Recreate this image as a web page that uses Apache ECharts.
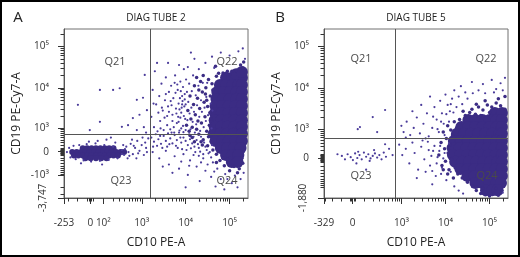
<!DOCTYPE html>
<html>
<head>
<meta charset="utf-8">
<script src="https://cdn.jsdelivr.net/npm/echarts@6/dist/echarts.min.js"></script>
<style>
  html, body { margin: 0; padding: 0; background: #fff; }
  #chart { width: 520px; height: 257px; }
</style>
</head>
<body>
<div id="chart"></div>
<script>
// axis ticks, in fluorescence units
const MAXV = 262143
const xTicksA = [-253, 0, 100, 1000, 10000, 100000]
const xLabelsA = ['-253', '0', '10²', '10³', '10⁴', '10⁵']
const yTicksA = [100000, 10000, 1000, 0, -1000]
const yLabelsA = ['10⁵', '10⁴', '10³', '0', '-10³']
const yMinA = -3747
const xTicksB = [-329, 0, 1000, 10000, 100000]
const xLabelsB = ['-329', '0', '10³', '10⁴', '10⁵']
const yTicksB = [100000, 10000, 1000, 0]
const yLabelsB = ['10⁵', '10⁴', '10³', '0']
const yMinB = -1880
// quadrant gates [CD10, CD19]
const gatesA = [1530, 640]
const gatesB = [707, 563]

// events, in logicle display units (≈ log10 for bright cells)
const blobA = [
  [4.92,4.24],[5.06,4.24],[5.20,4.24],[5.28,4.24],[5.15,4.33],[5.28,4.38],
  [4.78,4.07],[4.92,4.07],[5.06,4.07],[5.20,4.07],[5.28,4.07],
  [4.72,3.90],[4.87,3.90],[5.02,3.90],[5.16,3.90],[5.28,3.90],
  [4.70,3.73],[4.85,3.73],[5.00,3.73],[5.15,3.73],[5.28,3.73],
  [4.68,3.56],[4.83,3.56],[4.98,3.56],[5.13,3.56],[5.28,3.56],
  [4.67,3.39],[4.82,3.39],[4.97,3.39],[5.12,3.39],[5.28,3.39],
  [4.66,3.22],[4.81,3.22],[4.96,3.22],[5.11,3.22],[5.28,3.22],
  [4.66,3.06],[4.81,3.06],[4.96,3.06],[5.11,3.06],[5.28,3.06],
  [4.64,2.89],[4.79,2.89],[4.94,2.89],[5.09,2.89],[5.28,2.89],
  [4.68,2.72],[4.83,2.72],[4.98,2.72],[5.13,2.72],[5.28,2.72],
  [4.80,2.55],[4.95,2.55],[5.10,2.55],[5.25,2.55],
  [4.92,2.38],[5.06,2.38],[5.20,2.38],
  [5.05,2.21],[5.18,2.21]
]
const coreA = [
  [1.66,2.54],[1.76,2.54],[1.86,2.54],[1.96,2.54],[2.06,2.54],[2.16,2.54],[2.26,2.54],[2.36,2.54],
  [1.42,2.45],[1.52,2.45],[1.62,2.45],[1.72,2.45],[1.82,2.45],[1.92,2.45],[2.02,2.45],[2.12,2.45],
  [2.22,2.45],[2.32,2.45],[2.42,2.45],[2.52,2.45],[2.60,2.45],
  [1.46,2.37],[1.56,2.37],[1.66,2.37],[1.76,2.37],[1.86,2.37],[1.96,2.37],[2.06,2.37],[2.16,2.37],
  [2.26,2.37],[2.36,2.37],[2.46,2.37],
  [1.72,2.30],[1.84,2.30],[1.96,2.30],[2.08,2.30],[2.20,2.30]
]
const fringeA = [
  [4.02,3.10],[4.05,3.45],[4.08,2.95],[4.10,3.80],[4.12,3.25],[4.15,2.80],[4.18,3.60],[4.20,4.05],
  [4.22,3.35],[4.25,3.00],[4.27,3.75],[4.30,2.88],[4.32,3.50],[4.34,4.15],[4.36,3.15],[4.38,3.90],
  [4.40,2.75],[4.42,3.65],[4.44,3.30],[4.46,4.00],[4.48,2.95],[4.50,3.55],[4.52,4.20],[4.54,3.10],
  [4.56,3.80],[4.58,2.70],[4.60,4.10],[4.35,2.70],[4.15,3.05],[4.28,3.20],[4.45,3.85],[4.55,3.40],
  [4.40,4.30],[4.25,4.25],[4.10,2.85],[4.50,2.60],[4.62,2.50],[4.70,2.40],[4.38,2.62],[4.58,3.25],
  [4.48,3.70],[4.30,3.95],[4.62,3.95],[4.20,2.70],[4.52,2.82],
  [4.75,4.35],[4.85,4.36],[4.95,4.40],[5.05,4.40],[5.15,4.42],[5.25,4.55],[5.32,4.62],[4.68,4.52],
  [5.30,4.48],[4.70,4.28],[5.00,4.32],
  [4.78,2.25],[4.88,2.12],[4.95,2.28],[5.00,2.00],[5.10,2.10],[5.22,2.05],[5.30,2.18],[5.18,1.95],
  [4.85,2.30],[5.28,2.30],[4.70,2.20]
]
const dotsA = [
  // Q22, left of the bright population
  [3.22,3.30],[3.25,3.95],[3.28,3.05],[3.30,4.40],[3.33,3.60],[3.36,2.95],[3.40,3.80],[3.42,3.20],
  [3.45,4.10],[3.48,3.45],[3.50,2.98],[3.53,3.70],[3.55,4.25],[3.58,3.10],[3.60,3.55],[3.62,3.90],
  [3.65,3.00],[3.67,4.05],[3.70,3.35],[3.72,3.75],[3.74,2.92],[3.76,4.30],[3.78,3.50],[3.80,3.15],
  [3.82,3.95],[3.84,3.62],[3.86,2.97],[3.88,4.15],[3.90,3.40],[3.92,3.80],[3.94,3.08],[3.96,4.45],
  [3.97,3.55],[3.99,3.25],[3.60,4.60],[3.35,4.60],[3.85,4.55],[3.70,3.20],[3.52,3.28],[3.93,3.68],
  [3.88,3.28],[3.91,3.52],[3.95,2.93],[3.98,3.85],[4.00,3.60],[4.01,4.20],[3.87,3.75],[3.83,3.30],
  [4.05,4.50],[4.20,4.70],[4.45,4.60],[4.60,4.75],[4.80,4.85],[5.00,4.78],[5.20,4.88],[5.35,4.70],
  [4.30,4.45],[4.65,4.48],[4.12,4.85],[5.30,4.95],
  [3.62,3.42],[3.66,3.68],[3.73,3.05],[3.77,3.88],[3.79,3.38],[3.81,4.08],[3.84,3.18],[3.86,3.48],
  [3.89,3.92],[3.90,3.02],[3.92,3.60],[3.94,4.02],[3.96,3.32],[3.98,3.72],[4.00,2.98],[4.03,3.90],
  [4.04,3.22],[4.06,3.66],[4.08,4.10],[4.09,3.38],[4.11,3.00],[4.13,3.52],[4.14,3.92],[4.16,3.18],
  [4.17,4.30],[4.19,3.42],[4.21,2.92],[4.23,3.82],[4.24,3.12],[4.26,3.58],[4.29,4.05],[4.31,3.30],
  [4.33,2.96],[4.35,3.70],[4.37,3.42],[4.39,4.12],[4.41,3.05],[4.43,3.52],[4.46,3.20],[4.47,3.78],
  [4.49,4.12],[4.51,3.34],[4.53,2.88],[4.57,3.62],[4.59,3.02],[4.61,3.45],[3.55,3.85],[3.46,3.52],
  [3.58,3.32],[3.68,3.58],[3.75,4.12],[3.43,3.02],[3.38,3.40],[3.27,3.62],
  // around the CD19 gate
  [3.22,2.80],[3.28,2.70],[3.32,2.88],[3.38,2.76],[3.44,2.65],[3.50,2.84],[3.55,2.72],[3.60,2.90],
  [3.65,2.78],[3.70,2.66],[3.75,2.86],[3.80,2.74],[3.85,2.92],[3.90,2.68],[3.95,2.80],[4.00,2.72],
  [4.05,2.62],[4.10,2.76],[4.15,2.66],[4.20,2.58],[4.25,2.74],[4.30,2.55],[4.35,2.82],[4.42,2.68],
  [4.48,2.50],[3.35,2.60],[3.58,2.58],[3.82,2.55],[4.02,2.50],[4.22,2.45],
  [3.26,2.58],[3.42,2.84],[3.47,2.55],[3.63,2.64],[3.68,2.92],[3.78,2.60],[3.88,2.80],[3.92,2.52],
  [4.08,2.88],[4.12,2.54],[4.18,2.82],[4.28,2.64],[4.33,2.46],[4.38,2.72],[4.45,2.58],[4.55,2.45],
  [4.60,2.62],[4.40,2.40],
  // Q24
  [3.25,2.45],[3.40,2.30],[3.55,2.48],[3.62,2.15],[3.75,2.35],[3.85,2.05],[3.95,2.40],[4.05,1.90],
  [4.10,2.25],[4.18,2.38],[4.25,2.10],[4.32,1.75],[4.40,2.30],[4.45,2.00],[4.52,2.42],[4.58,1.85],
  [4.62,2.20],[4.68,1.62],[4.72,2.05],[4.80,1.80],[4.90,1.92],[5.05,1.70],[5.12,1.88],[5.25,1.80],
  [5.32,1.95],[3.70,1.95],[3.48,2.10],[4.00,1.60],[4.88,1.55],[5.18,1.60],
  [4.35,2.20],[4.50,2.15],[4.58,2.32],[4.65,1.98],[4.30,2.36],[4.08,2.12],[3.90,2.22],[4.95,1.80],
  // Q23, tail and halo of the negative population
  [2.55,2.50],[2.60,2.38],[2.65,2.58],[2.70,2.45],[2.75,2.65],[2.80,2.40],[2.85,2.55],[2.90,2.72],
  [2.95,2.48],[3.00,2.62],[3.05,2.38],[3.10,2.55],[3.15,2.78],[2.68,2.30],[2.88,2.30],[3.02,2.80],
  [2.78,2.75],[3.12,2.45],[2.62,2.52],[2.72,2.36],[2.82,2.60],[2.92,2.42],[3.08,2.68],
  [1.30,2.45],[1.35,2.55],[1.38,2.32],[1.45,2.60],[1.50,2.28],[1.58,2.62],[1.68,2.25],[1.75,2.64],
  [1.85,2.22],[1.95,2.66],[2.05,2.24],[2.15,2.62],[2.25,2.26],[2.35,2.58],[2.45,2.30],[2.55,2.40],
  [2.40,2.68],[2.00,2.72],[1.80,2.70],[2.20,2.75],[1.62,2.18],[2.10,2.15],[2.58,2.62],[2.30,2.80],
  // Q21
  [2.05,3.95],[2.35,3.95],[1.55,3.59],[2.89,3.71],[3.03,3.76],[3.12,3.46],[2.80,3.27],[2.55,3.06],
  [2.05,3.18],[2.69,3.10],[2.89,2.98],[3.07,4.31],[2.50,3.99],[1.82,2.98],[3.05,3.05],[3.10,2.92],
  [2.95,3.35]
]

const blobB = [
  [5.12,3.41],[5.28,3.41],
  [4.52,3.24],[4.68,3.24],[4.84,3.24],[5.00,3.24],[5.16,3.24],[5.28,3.24],
  [4.36,3.07],[4.52,3.07],[4.68,3.07],[4.84,3.07],[5.00,3.07],[5.16,3.07],[5.28,3.07],
  [4.26,2.91],[4.42,2.91],[4.58,2.91],[4.74,2.91],[4.90,2.91],[5.06,2.91],[5.22,2.91],[5.28,2.91],
  [4.19,2.74],[4.35,2.74],[4.51,2.74],[4.67,2.74],[4.83,2.74],[4.99,2.74],[5.15,2.74],[5.28,2.74],
  [4.16,2.57],[4.32,2.57],[4.48,2.57],[4.64,2.57],[4.80,2.57],[4.96,2.57],[5.12,2.57],[5.28,2.57],
  [4.17,2.40],[4.33,2.40],[4.49,2.40],[4.65,2.40],[4.81,2.40],[4.97,2.40],[5.13,2.40],[5.28,2.40],
  [4.22,2.24],[4.38,2.24],[4.54,2.24],[4.70,2.24],[4.86,2.24],[5.02,2.24],[5.18,2.24],[5.28,2.24],
  [4.34,2.07],[4.50,2.07],[4.66,2.07],[4.82,2.07],[4.98,2.07],[5.14,2.07],[5.28,2.07],
  [4.50,1.90],[4.66,1.90],[4.82,1.90],[4.98,1.90],[5.14,1.90],[5.28,1.90],
  [4.68,1.73],[4.84,1.73],[5.00,1.73],[5.16,1.73],[5.26,1.73],
  [4.92,1.56],[5.06,1.56],[5.18,1.56]
]
const fringeB = [
  [3.85,2.40],[3.90,2.70],[3.92,2.15],[3.95,2.95],[3.98,2.55],[4.00,2.25],[4.02,2.80],[4.05,3.10],
  [4.06,2.45],[4.08,2.05],[4.10,2.65],[4.12,3.00],[4.14,2.30],[4.16,2.88],[4.05,1.95],[4.20,3.20],
  [4.25,3.05],[4.28,1.95],[4.32,3.25],[4.38,1.85],[4.45,3.35],[4.50,1.75],[4.55,3.42],[4.62,1.65],
  [4.22,2.10],[3.95,2.05],[4.18,1.85],
  [4.40,3.45],[4.60,3.50],[4.75,3.55],[4.85,3.48],[4.95,3.60],[5.05,3.55],[5.15,3.65],[5.25,3.58],
  [5.35,3.50],[4.90,3.70],[5.20,3.75],[5.35,3.80],[4.70,3.62],[5.00,3.42],[4.68,3.38],[4.80,3.35],
  [4.70,1.55],[4.80,1.48],[4.90,1.45],[5.00,1.42],[5.10,1.48],[5.20,1.44],[5.28,1.55],[4.85,1.60],
  [5.15,1.60],[5.32,1.68]
]
const dotsB = [
  // Q22
  [3.00,3.10],[3.05,2.95],[3.12,3.20],[3.20,2.88],[3.28,3.05],[3.35,3.30],[3.42,2.92],[3.50,3.15],
  [3.58,3.40],[3.62,2.85],[3.70,3.05],[3.75,3.55],[3.80,3.25],[3.85,2.95],[3.88,3.70],[3.92,3.40],
  [3.96,3.15],[4.00,3.85],[4.05,3.60],[4.10,3.45],[4.15,3.75],[4.20,3.95],[3.45,3.60],[3.25,3.45],
  [3.65,3.80],[4.35,4.05],[4.60,4.15],[4.85,4.10],[5.05,4.20],[5.25,4.12],[5.35,4.25],[4.45,3.90],
  [4.75,3.95],[5.15,3.98],[3.10,2.82],[3.55,2.80],
  [3.72,3.32],[3.82,3.02],[3.90,3.20],[3.98,2.88],[4.02,3.38],[4.08,3.20],[4.12,3.62],[4.18,3.42],
  [4.25,3.55],[4.30,3.80],[4.38,3.62],[4.50,3.75],[4.62,3.88],[4.90,3.88],[5.10,3.90],[5.30,3.95],
  // Q24
  [2.95,2.65],[3.02,2.40],[3.10,2.55],[3.18,2.20],[3.25,2.70],[3.30,2.45],[3.38,2.05],[3.45,2.60],
  [3.52,2.30],[3.60,2.72],[3.65,2.15],[3.72,2.50],[3.78,1.90],[3.82,2.35],[3.88,2.62],[3.92,2.10],
  [3.98,2.45],[4.02,1.80],[4.08,2.68],[4.12,2.00],[3.35,1.85],[3.70,1.70],[4.20,1.65],[4.30,1.55],
  [4.40,1.48],[5.30,1.50],[3.55,2.00],[3.48,2.75],
  [3.68,2.38],[3.75,2.62],[3.80,2.20],[3.86,2.50],[3.90,1.95],[3.95,2.32],[3.62,2.52],[3.70,2.02],
  // Q23
  [1.65,2.38],[1.72,2.30],[1.78,2.42],[1.85,2.35],[1.90,2.28],[1.95,2.44],[2.00,2.33],[2.05,2.40],
  [2.10,2.30],[2.15,2.46],[2.20,2.36],[2.25,2.42],[2.30,2.32],[2.35,2.38],[2.40,2.44],[2.45,2.34],
  [2.50,2.40],[2.55,2.30],[2.60,2.46],[2.65,2.36],[2.02,2.48],[2.28,2.26],[1.98,2.20],[2.38,2.52],
  [2.20,2.05],[2.80,2.40],[2.72,2.55],[1.55,2.42],[2.63,2.66],
  // Q21
  [2.63,3.48],[2.35,3.31],[2.06,3.07],[2.01,3.02],[2.45,2.95]
]

const PURPLE = '#3b2c84'
const DOT = '#4a3b9a'
const FONT = '"Open Sans", "Noto Sans", sans-serif'

// logicle-like (arcsinh) display transform, one width per axis
function logicle(w) {
  return (v) => Math.asinh(v / w) / Math.LN10 + Math.log10(w / 2)
}
const fxA = logicle(136), fyA = logicle(576)
const fxB = logicle(156), fyB = logicle(424)

function minorValues(vmin, lowKs) {
  const out = []
  for (let n = 1; n <= 5; n++) {
    const ks = n === 1 ? lowKs : [1, 2, 3, 4, 5, 6, 7, 8, 9]
    for (const k of ks) {
      const v = k * Math.pow(10, n)
      if (v <= MAXV) out.push(v)
      if (-v >= vmin) out.push(-v)
    }
  }
  return out
}

function labelFor(vals, labels) {
  return (v) => {
    const i = vals.findIndex((t) => Math.abs(t - v) < 1e-6)
    return i >= 0 ? labels[i] : ''
  }
}

function axesFor(dim, gridIndex, f, vmin, ticks, labels, lowKs) {
  const min = f(vmin), max = f(MAXV)
  const vals = ticks.map(f)
  const base = { type: 'value', gridIndex, min, max, splitLine: { show: false },
    position: dim === 'x' ? 'bottom' : 'left', offset: 0 }
  const main = Object.assign({}, base, {
    axisLine: { show: true, onZero: false, lineStyle: { color: '#555', width: 1 } },
    axisTick: { show: true, customValues: vals.concat([min]), length: 6, lineStyle: { color: '#333' } },
    axisLabel: {
      customValues: vals, formatter: labelFor(vals, labels),
      fontSize: 10, color: '#333', fontFamily: FONT, margin: dim === 'x' ? 20 : 15,
    },
    nameLocation: 'middle',
    nameTextStyle: { fontSize: 12, color: '#222', fontFamily: FONT },
  })
  const minor = Object.assign({}, base, {
    axisLine: { show: false, onZero: false },
    axisTick: { show: true, customValues: minorValues(vmin, lowKs).map(f), length: 3.5, lineStyle: { color: '#333' } },
    axisLabel: { show: false },
  })
  return [main, minor]
}

function minLabelAxis(gridIndex, f, vmin) {
  const min = f(vmin)
  return {
    type: 'value', gridIndex, min, max: f(MAXV), position: 'left', offset: 0,
    splitLine: { show: false }, axisLine: { show: false, onZero: false }, axisTick: { show: false },
    axisLabel: {
      customValues: [min], rotate: 90, formatter: () => vmin.toLocaleString('en-US'),
      fontSize: 10, color: '#333', fontFamily: FONT, margin: 16,
    },
  }
}

const [xA, xAm] = axesFor('x', 0, fxA, xTicksA[0], xTicksA, xLabelsA, [1, 2])
const [xB, xBm] = axesFor('x', 1, fxB, xTicksB[0], xTicksB, xLabelsB, [1, 2])
const [yA, yAm] = axesFor('y', 0, fyA, yMinA, yTicksA, yLabelsA, [2, 4, 6, 8])
const [yB, yBm] = axesFor('y', 1, fyB, yMinB, yTicksB, yLabelsB, [2, 4, 6, 8])
xA.name = xB.name = 'CD10 PE-A'
xA.nameGap = xB.nameGap = 39
yA.name = yB.name = 'CD19 PE-Cy7-A'
yA.nameGap = yB.nameGap = 41

function events(xi, yi, data, size, color) {
  return { type: 'scatter', xAxisIndex: xi, yAxisIndex: yi, data, symbolSize: size,
    itemStyle: { color, opacity: 1 }, silent: true }
}
function gates(xi, yi, data, fx, fy, g) {
  const s = events(xi, yi, data, 2.2, DOT)
  s.markLine = {
    silent: true, symbol: 'none', animation: false, label: { show: false },
    lineStyle: { color: '#555', width: 1, type: 'solid' },
    data: [{ xAxis: fx(g[0]) }, { yAxis: fy(g[1]) }],
  }
  return s
}

function text(str, x, y, size, color) {
  return { type: 'text', x, y, z: 100,
    style: { text: str, font: size + 'px ' + FONT, fill: color,
      textAlign: 'center', textVerticalAlign: 'middle', align: 'center', verticalAlign: 'middle' } }
}

const chart = echarts.init(document.getElementById('chart'), null, { renderer: 'canvas' })
chart.setOption({
  animation: false,
  backgroundColor: '#fff',
  grid: [
    { left: 64, top: 29, width: 184, height: 169, show: true, borderColor: '#707070', borderWidth: 1 },
    { left: 324, top: 29, width: 184, height: 169, show: true, borderColor: '#707070', borderWidth: 1 },
  ],
  xAxis: [xA, xAm, xB, xBm],
  yAxis: [yA, yAm, minLabelAxis(0, fyA, yMinA), yB, yBm, minLabelAxis(1, fyB, yMinB)],
  series: [
    events(0, 0, blobA, 12, PURPLE),
    events(0, 0, coreA, 6, PURPLE),
    events(0, 0, fringeA, 3.5, PURPLE),
    gates(0, 0, dotsA, fxA, fyA, gatesA),
    events(2, 3, blobB, 12, PURPLE),
    events(2, 3, fringeB, 3.5, PURPLE),
    gates(2, 3, dotsB, fxB, fyB, gatesB),
  ],
  graphic: [
    { type: 'rect', shape: { x: 1, y: 1, width: 518, height: 255 }, style: { fill: 'none', stroke: '#000', lineWidth: 2 }, z: 100 },
    text('A', 18, 18, 15, '#222'),
    text('B', 280, 18, 15, '#222'),
    text('DIAG TUBE 2', 156, 18.5, 10, '#222'),
    text('DIAG TUBE 5', 416, 18.5, 10, '#222'),
    text('Q21', 115, 62, 11, '#4a4a4a'),
    text('Q22', 227, 62, 11, '#4a4a4a'),
    text('Q23', 121, 181, 11, '#4a4a4a'),
    text('Q24', 227, 181, 11, '#4a4a4a'),
    text('Q21', 361, 59, 11, '#4a4a4a'),
    text('Q22', 486, 59, 11, '#4a4a4a'),
    text('Q23', 361, 176, 11, '#4a4a4a'),
    text('Q24', 487, 176, 11, '#4a4a4a'),
  ],
})
</script>
</body>
</html>
